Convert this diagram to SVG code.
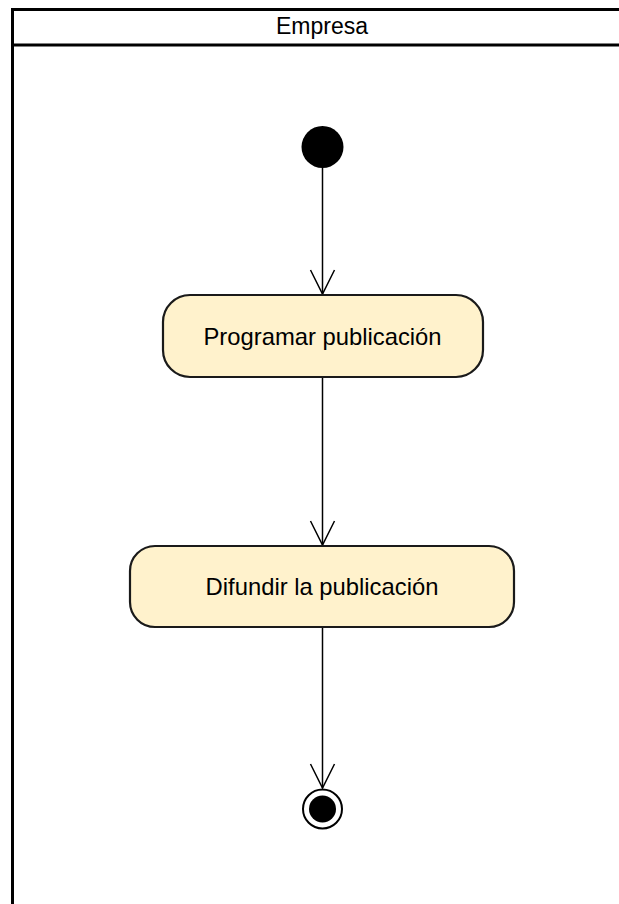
<svg xmlns="http://www.w3.org/2000/svg" width="619" height="904" viewBox="0 0 619 904">
  <style>
    .lane { fill: #ffffff; stroke: #000000; stroke-width: 3; }
    .action { fill: #fff2cc; stroke: #1a1a1a; stroke-width: 2.2; }
    .label { font-family: "Liberation Sans", Arial, sans-serif; font-size: 23px; fill: #000000; text-anchor: middle; }
    .big { font-size: 23.8px; }
    .flow { fill: none; stroke: #000000; stroke-width: 1.5; }
  </style>
  <defs>
    <marker id="openArrow" markerUnits="userSpaceOnUse" markerWidth="30" markerHeight="30" refX="26" refY="13" orient="auto">
      <path d="M2,1 L26,13 L2,25" fill="none" stroke="#000000" stroke-width="1.5"/>
    </marker>
  </defs>

  <rect width="619" height="904" fill="#ffffff"/>

  <!-- swimlane -->
  <g id="lane-empresa">
    <rect class="lane" x="12.5" y="9.5" width="640" height="920"/>
    <line x1="12.5" y1="45" x2="640" y2="45" stroke="#000000" stroke-width="3"/>
    <text class="label" x="322" y="34">Empresa</text>
  </g>

  <!-- connectors -->
  <g id="connectors">
    <line class="flow" x1="322.5" y1="168" x2="322.5" y2="294" marker-end="url(#openArrow)"/>
    <line class="flow" x1="322.5" y1="377" x2="322.5" y2="545" marker-end="url(#openArrow)"/>
    <line class="flow" x1="322.5" y1="627" x2="322.5" y2="788" marker-end="url(#openArrow)"/>
  </g>

  <!-- initial node -->
  <g id="start">
    <circle cx="322.5" cy="147" r="21" fill="#000000"/>
  </g>

  <!-- actions -->
  <g id="programar">
    <rect class="action" x="163" y="295" width="320" height="82" rx="27" ry="27"/>
    <text class="label big" x="322.5" y="345">Programar publicación</text>
  </g>

  <g id="difundir">
    <rect class="action" x="130" y="546" width="384" height="81" rx="25" ry="25"/>
    <text class="label big" x="322" y="595">Difundir la publicación</text>
  </g>

  <!-- final node -->
  <g id="end">
    <circle cx="322.5" cy="809" r="19.5" fill="#ffffff" stroke="#000000" stroke-width="2"/>
    <circle cx="322.5" cy="809" r="13.5" fill="#000000"/>
  </g>
</svg>
